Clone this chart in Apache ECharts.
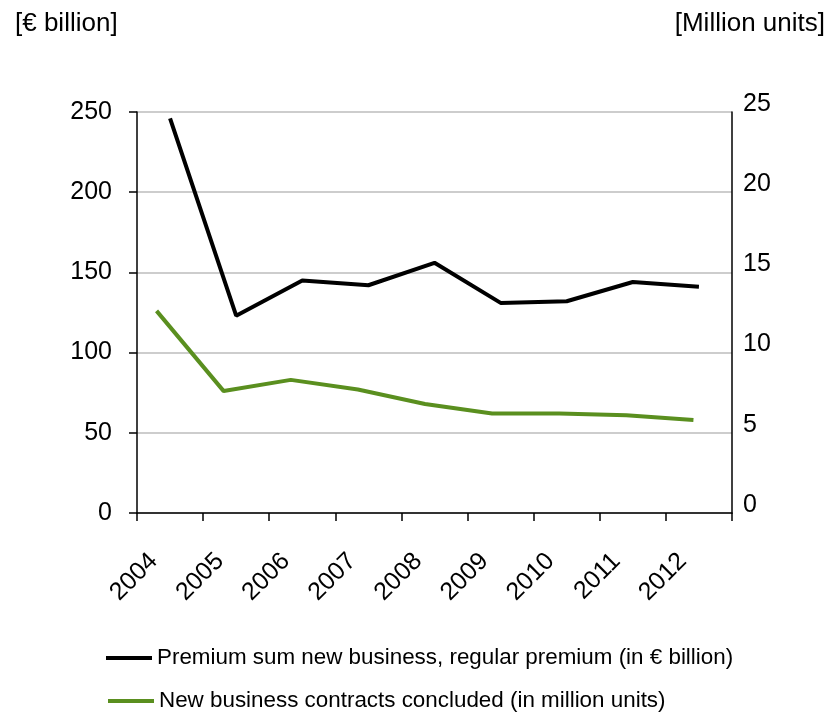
<!DOCTYPE html>
<html>
<head>
<meta charset="utf-8">
<script src="https://cdn.jsdelivr.net/npm/echarts@6/dist/echarts.min.js"></script>
<style>
html,body{margin:0;padding:0;background:#fff;}
#chart{width:832px;height:717px;}
</style>
</head>
<body>
<div id="chart"></div>
<script>
var years = ['2004','2005','2006','2007','2008','2009','2010','2011','2012'];
var premiumSum = [246, 123, 145, 142, 156, 131, 132, 144, 141];
var contracts = [12.6, 7.6, 8.3, 7.7, 6.8, 6.2, 6.2, 6.1, 5.8];
var leftTicks = [0, 250, 50];
var rightTicks = [0, 25, 5];
var seriesNames = ['Premium sum new business, regular premium (in € billion)', 'New business contracts concluded (in million units)'];
var unitLeft = '[€ billion]';
var unitRight = '[Million units]';

var FONT = "'Liberation Sans', Arial, sans-serif";
var legendBase = {
  orient: 'horizontal',
  icon: 'rect',
  itemWidth: 46,
  itemHeight: 4,
  textStyle: {fontSize: 22.4, color: '#000', fontFamily: FONT}
};
var chart = echarts.init(document.getElementById('chart'), null, {renderer: 'canvas'});
chart.setOption({
  animation: false,
  backgroundColor: '#ffffff',
  textStyle: {fontFamily: FONT, color: '#000'},
  title: [
    {text: unitLeft, left: 10, top: 6, textStyle: {fontSize: 26, fontWeight: 'normal', color: '#000', fontFamily: FONT}},
    {text: unitRight, right: 2, top: 6, textStyle: {fontSize: 26, fontWeight: 'normal', color: '#000', fontFamily: FONT}}
  ],
  grid: [
    {left: 137, top: 112, right: 100, bottom: 204},
    {left: 123, top: 112, width: 604, bottom: 204}
  ],
  legend: [
    Object.assign({}, legendBase, {left: 101, top: 642, data: [seriesNames[0]]}),
    Object.assign({}, legendBase, {left: 103, top: 685, data: [seriesNames[1]]})
  ],
  xAxis: [
    {
      type: 'category', gridIndex: 0, data: years, boundaryGap: true,
      axisLine: {show: true, lineStyle: {color: '#000', width: 1.5}},
      axisTick: {show: true, length: 8, alignWithLabel: false, lineStyle: {color: '#000', width: 1.5}},
      axisLabel: {rotate: 45, fontSize: 25, color: '#000', fontFamily: FONT, margin: 28, padding: [0, 23, 0, 0], interval: 0},
      splitLine: {show: false}
    },
    {
      type: 'category', gridIndex: 1, data: years, boundaryGap: true, show: false
    }
  ],
  yAxis: [
    {
      type: 'value', gridIndex: 0, min: leftTicks[0], max: leftTicks[1], interval: leftTicks[2], position: 'left',
      axisLine: {show: true, lineStyle: {color: '#000', width: 1.5}},
      axisTick: {show: true, length: 8, inside: false, lineStyle: {color: '#000', width: 1.5}},
      axisLabel: {fontSize: 25, color: '#000', fontFamily: FONT, margin: 25},
      splitLine: {show: true, lineStyle: {color: '#bdbdbd', width: 1.5}}
    },
    {
      type: 'value', gridIndex: 0, min: rightTicks[0], max: rightTicks[1], interval: rightTicks[2], position: 'right',
      axisLine: {show: true, lineStyle: {color: '#000', width: 1.5}},
      axisTick: {show: false},
      axisLabel: {fontSize: 25, color: '#000', fontFamily: FONT, margin: 11, verticalAlign: 'bottom', lineHeight: 16},
      splitLine: {show: false}
    },
    {
      type: 'value', gridIndex: 1, min: rightTicks[0], max: rightTicks[1], interval: rightTicks[2], show: false,
      splitLine: {show: false}
    }
  ],
  series: [
    {
      name: seriesNames[0], type: 'line', xAxisIndex: 0, yAxisIndex: 0, data: premiumSum,
      symbol: 'none', lineStyle: {color: '#000', width: 4}, itemStyle: {color: '#000'}, z: 3
    },
    {
      name: seriesNames[1], type: 'line', xAxisIndex: 1, yAxisIndex: 2, data: contracts,
      symbol: 'none', lineStyle: {color: '#5A8F1F', width: 4}, itemStyle: {color: '#5A8F1F'}, z: 2
    }
  ]
});
</script>
</body>
</html>
